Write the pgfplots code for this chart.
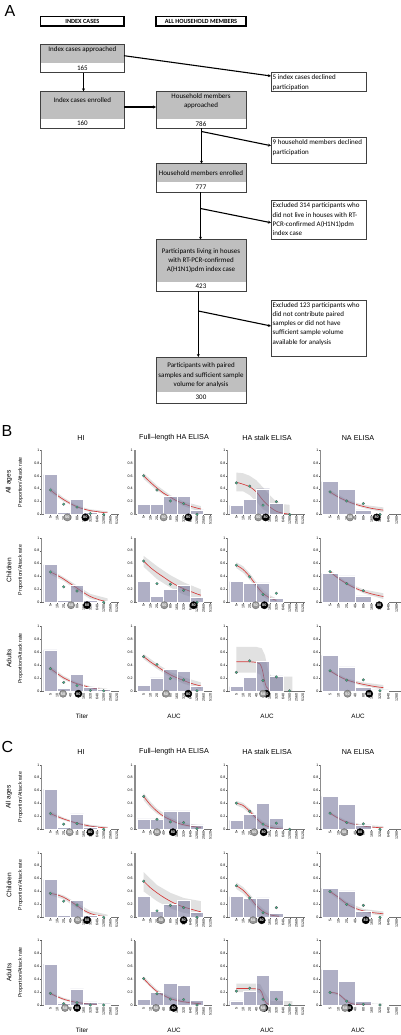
\documentclass[border=0pt]{standalone}
\usepackage{pgfplots}
\pgfplotsset{compat=1.18}
\usepackage{pgfplotstable}
\usepackage{fontspec}
\setmainfont{Liberation Sans}
\newfontfamily\calfont{Carlito}
\usetikzlibrary{arrows.meta}

\definecolor{barc}{RGB}{121,121,158}
\definecolor{dotc}{RGB}{60,185,140}
\definecolor{redc}{RGB}{212,58,58}
\definecolor{boxg}{RGB}{191,191,191}
\definecolor{bandc}{RGB}{212,212,212}

% histogram bars (same in panels B and C)
\pgfplotstableread{
x y
0 0.62
2 0.03
4 0.24
6 0.04
8 0.02
}\bHIall
\pgfplotstableread{
x y
0 0.585
2 0.025
4 0.26
6 0.025
8 0.015
}\bHIch
\pgfplotstableread{
x y
0 0.635
2 0.035
4 0.25
6 0.05
8 0.02
}\bHIad
\pgfplotstableread{
x y
0 0.16
2 0.16
4 0.285
6 0.285
8 0.07
}\bFLall
\pgfplotstableread{
x y
0 0.33
2 0.09
4 0.2
6 0.26
8 0.08
}\bFLch
\pgfplotstableread{
x y
0 0.085
2 0.2
4 0.335
6 0.30
8 0.07
}\bFLad
\pgfplotstableread{
x y
0 0.14
2 0.23
4 0.40
6 0.17
}\bSTall
\pgfplotstableread{
x y
0 0.32
2 0.29
4 0.30
6 0.06
}\bSTch
\pgfplotstableread{
x y
0 0.065
2 0.21
4 0.46
6 0.23
}\bSTad
\pgfplotstableread{
x y
0 0.51
2 0.39
4 0.07
6 0.015
}\bNAall
\pgfplotstableread{
x y
0 0.45
2 0.41
4 0.10
6 0.015
}\bNAch
\pgfplotstableread{
x y
0 0.55
2 0.37
4 0.055
6 0.015
}\bNAad

\pgfplotsset{
 base/.style={anchor=south west, scale only axis, height=64.5pt, ymin=0, ymax=1, clip=false,
  axis x line*=bottom, axis y line*=left,
  ytick={0,0.2,0.4,0.6,0.8,1}, yticklabels={0,0.2,0.4,0.6,0.8,1},
  tick label style={font=\fontsize{3.6}{4}\selectfont, inner sep=0.8pt},
  x tick label style={rotate=90, anchor=east},
  tick align=outside, major tick length=1.4pt,
  every tick/.style={black!65, line width=0.35pt},
  y axis line style={black!45, line width=1.1pt},
  x axis line style={black!55, line width=0.35pt},
 },
 ti/.style={base, width=77.3pt, xmin=-1.3, xmax=10.3, xtick={0,...,10},
  xticklabels={5,10,20,40,80,160,320,640,1280,2560,5120}},
 na/.style={base, width=80.1pt, xmin=-1.12, xmax=8.5, xtick={0,...,8},
  xticklabels={5,10,20,40,80,160,320,640,1280}},
 bars/.style={ybar, bar width=2, fill=barc, fill opacity=0.6, draw=white, line width=0.4pt},
 band/.style={fill=bandc, draw=none, fill opacity=0.7},
 curve/.style={smooth, no markers, redc, line width=0.65pt},
 dots/.style={only marks, mark=*, mark size=1.35pt, mark options={fill=dotc, draw=black!65, line width=0.3pt}},
 c50/.style={only marks, mark=*, mark size=3.6pt, mark options={fill=black!40, draw=black!55, line width=0.5pt},
  nodes near coords={50}, nodes near coords align={center},
  every node near coord/.append style={font=\fontsize{3.8}{4}\selectfont\bfseries, text=white, inner sep=0pt}},
 c80/.style={only marks, mark=*, mark size=3.6pt, mark options={fill=black, draw=black, line width=0.5pt},
  nodes near coords={80}, nodes near coords align={center},
  every node near coord/.append style={font=\fontsize{3.8}{4}\selectfont\bfseries, text=white, inner sep=0pt}},
}

\tikzset{bl/.style={draw=black!75, line width=0.6pt},
 arr/.style={line width=1.1pt, -{Stealth[length=3pt,width=3pt]}}}

\newcommand{\mainbox}[8]{%
 \fill[boxg] (#1,-#3) rectangle (#2,-#4);
 \draw[bl] (#1,-#3) rectangle (#2,-#5);
 \node[font=\calfont\fontsize{7}{9.3}\selectfont, align=center, inner sep=0pt] at ({(#1+#2)/2},-#6) {#7};
 \node[font=\calfont\fontsize{7}{9.3}\selectfont, inner sep=0pt] at ({(#1+#2)/2},{-(#4+#5)/2}) {#8};
}
\newcommand{\sidebox}[3]{%
 \draw[bl] (271,-#1) rectangle (366,-#2);
 \node[font=\calfont\fontsize{7}{9.3}\selectfont, align=left, anchor=north west, inner sep=0pt] at (272.5,{-#1-2}) {#3};
}

\begin{document}
\begin{tikzpicture}[x=1pt,y=1pt]
\useasboundingbox (0,0) rectangle (401,-1035);

% ---------------- Panel A ----------------
\node[font=\fontsize{16}{16}\selectfont] at (10,-11) {A};
\draw[line width=1.1pt] (40.7,-16.7) rectangle (124,-26);
\node[font=\calfont\bfseries\fontsize{6.3}{7}\selectfont] at (82.3,-21.4) {INDEX CASES};
\draw[line width=1.1pt] (156,-16.7) rectangle (246,-26);
\node[font=\calfont\bfseries\fontsize{6.3}{7}\selectfont] at (201,-21.4) {ALL HOUSEHOLD MEMBERS};

\mainbox{40.7}{124}{44.7}{63}{72.7}{49.5}{Index cases approached}{165}
\mainbox{40.7}{124}{91.3}{119}{128.3}{100.3}{Index cases enrolled}{160}
\mainbox{156}{246}{91.3}{119}{128.3}{100.8}{Household members\\approached}{786}
\mainbox{156}{246}{163.7}{182}{192}{173.3}{Household members enrolled}{777}
\mainbox{156}{246}{239.7}{282}{291}{260.7}{Participants living in houses\\with RT-PCR-confirmed\\A(H1N1)pdm index case}{423}
\mainbox{156}{246}{357}{392}{403}{375.3}{Participants with paired\\samples and sufficient sample\\volume for analysis}{300}

\sidebox{72.7}{91}{5 index cases declined\\participation}
\sidebox{137.7}{163.7}{9 household members declined\\participation}
\sidebox{200.7}{239.7}{Excluded 314 participants who\\did not live in houses with RT-\\PCR-confirmed A(H1N1)pdm\\index case}
\sidebox{300}{356.7}{Excluded 123 participants who\\did not contribute paired\\samples or did not have\\sufficient sample volume\\available for analysis}

\draw[arr] (124,-55.7) -- (271,-76);
\draw[arr] (83.5,-72.7) -- (83.5,-91.3);
\draw[arr] (124,-107) -- (156,-107);
\draw[arr] (201.5,-128.3) -- (201.5,-163.7);
\draw[arr] (201.5,-131.5) -- (271,-145.7);
\draw[arr] (200.5,-192) -- (200.5,-239.7);
\draw[arr] (200.5,-208.5) -- (271,-222.7);
\draw[arr] (198.3,-291) -- (198.3,-357);
\draw[arr] (198.3,-311) -- (271,-326);

% ---------------- Panel labels / titles ----------------
\node[font=\fontsize{16}{16}\selectfont] at (7,-431) {B};
\node[font=\fontsize{16}{16}\selectfont] at (7.5,-746.7) {C};
\foreach \yy in {438,752}{
 \node[font=\fontsize{7.2}{8}\selectfont] at (81,-\yy) {HI};
 \node[font=\fontsize{7.2}{8}\selectfont] at (174,-\yy) {Full\textendash length HA ELISA};
 \node[font=\fontsize{7.2}{8}\selectfont] at (267,-\yy) {HA stalk ELISA};
 \node[font=\fontsize{7.2}{8}\selectfont] at (358,-\yy) {NA ELISA};
}
\foreach \yy in {716.7,1030.5}{
 \node[font=\fontsize{6.3}{7}\selectfont] at (82,-\yy) {Titer};
 \node[font=\fontsize{6.3}{7}\selectfont] at (174,-\yy) {AUC};
 \node[font=\fontsize{6.3}{7}\selectfont] at (267,-\yy) {AUC};
 \node[font=\fontsize{6.3}{7}\selectfont] at (358,-\yy) {AUC};
}
\foreach \yy/\lab in {482.25/All ages,570/Children,658.5/Adults,797/All ages,885/Children,972.75/Adults}{
 \node[rotate=90, font=\fontsize{6.6}{7}\selectfont] at (9,-\yy) {\lab};
 \node[rotate=90, font=\fontsize{5.2}{6}\selectfont] at (20.5,-\yy) {Proportion/Attack rate};
}

% ================= Panel B =================
% ---- All ages ----
\begin{axis}[ti, at={(41.7pt,-514.5pt)}]
\addplot[band] coordinates {(0,0.42)(2,0.26)(4,0.14)(6,0.08)(8.6,0.05)(8.6,0.005)(6,0.04)(4,0.10)(2,0.20)(0,0.34)};
\addplot[curve] coordinates {(0,0.38)(1,0.30)(2,0.23)(3,0.17)(4,0.12)(5,0.085)(6,0.06)(7,0.045)(8,0.03)(8.6,0.025)};
\addplot[dots] coordinates {(0,0.38)(2,0.16)(4,0.115)(6,0.015)(8,0)};
\addplot[bars] table {\bHIall};
\addplot[c80] coordinates {(5.25,-0.045)};
\addplot[c50] coordinates {(2.55,-0.045)};
\end{axis}
\begin{axis}[ti, at={(135pt,-514.5pt)}]
\addplot[band] coordinates {(0,0.64)(2,0.45)(4,0.3)(6,0.2)(8.6,0.13)(8.6,0.04)(6,0.13)(4,0.24)(2,0.37)(0,0.55)};
\addplot[curve] coordinates {(0,0.6)(1,0.5)(2,0.41)(3,0.33)(4,0.27)(5,0.21)(6,0.17)(7,0.13)(8,0.1)(8.6,0.085)};
\addplot[dots] coordinates {(0,0.6)(2,0.38)(4,0.21)(6,0.17)(8,0.005)};
\addplot[bars] table {\bFLall};
\addplot[c80] coordinates {(6.7,-0.045)};
\addplot[c50] coordinates {(3.0,-0.045)};
\end{axis}
\begin{axis}[ti, at={(227.7pt,-514.5pt)}]
\addplot[band] coordinates {(0,0.65)(1,0.64)(2,0.6)(3,0.53)(4,0.42)(5,0.3)(6,0.2)(7,0.16)(8,0.15)(8,0)(7,0)(6,0)(5,0.02)(4,0.08)(3,0.2)(2,0.3)(1,0.36)(0,0.36)};
\addplot[curve] coordinates {(0,0.5)(1,0.47)(2,0.43)(3,0.35)(4,0.22)(5,0.12)(6,0.05)(7,0.02)(8,0.005)};
\addplot[dots] coordinates {(0,0.49)(2,0.44)(4,0.145)(6,0.2)(8,0)};
\addplot[bars] table {\bSTall};
\addplot[c80] coordinates {(4.4,-0.045)};
\addplot[c50] coordinates {(3.3,-0.045)};
\end{axis}
\begin{axis}[na, at={(320.7pt,-514.5pt)}]
\addplot[band] coordinates {(0,0.38)(2,0.23)(4,0.15)(6.4,0.11)(6.4,0.035)(4,0.1)(2,0.19)(0,0.32)};
\addplot[curve] coordinates {(0,0.35)(1,0.27)(2,0.21)(3,0.16)(4,0.125)(5,0.095)(6,0.075)(6.4,0.068)};
\addplot[dots] coordinates {(0,0.35)(2,0.21)(4,0.17)(6,0)};
\addplot[bars] table {\bNAall};
\addplot[c80] coordinates {(5.6,-0.045)};
\addplot[c50] coordinates {(2.4,-0.045)};
\end{axis}
% ---- Children ----
\begin{axis}[ti, at={(41.7pt,-602.3pt)}]
\addplot[band] coordinates {(0,0.51)(2,0.39)(4,0.26)(6,0.13)(8.6,0.06)(8.6,0)(6,0.05)(4,0.18)(2,0.33)(0,0.43)};
\addplot[curve] coordinates {(0,0.47)(1,0.42)(2,0.36)(3,0.29)(4,0.22)(5,0.15)(6,0.09)(7,0.05)(8,0.02)(8.6,0.012)};
\addplot[dots] coordinates {(0,0.47)(2,0.24)(4,0.175)(8,0)};
\addplot[bars] table {\bHIch};
\addplot[c80] coordinates {(5.5,-0.045)};
\addplot[c50] coordinates {(3.1,-0.045)};
\end{axis}
\begin{axis}[ti, at={(135pt,-602.3pt)}]
\addplot[band] coordinates {(0,0.72)(2,0.56)(4,0.42)(6,0.31)(8.6,0.2)(8.6,0.04)(6,0.12)(4,0.23)(2,0.36)(0,0.55)};
\addplot[curve] coordinates {(0,0.64)(1,0.54)(2,0.46)(3,0.39)(4,0.32)(5,0.26)(6,0.21)(7,0.17)(8,0.13)(8.6,0.11)};
\addplot[dots] coordinates {(0,0.64)(2,0.29)(4,0.28)(6,0.185)(8,0)};
\addplot[bars] table {\bFLch};
\addplot[c80] coordinates {(7.5,-0.045)};
\addplot[c50] coordinates {(3.1,-0.045)};
\end{axis}
\begin{axis}[ti, at={(227.7pt,-602.3pt)}]
\addplot[band] coordinates {(0,0.62)(1,0.56)(2,0.45)(3,0.31)(4,0.19)(5,0.11)(6,0.06)(6,0.01)(5,0.03)(4,0.09)(3,0.21)(2,0.35)(1,0.46)(0,0.53)};
\addplot[curve] coordinates {(0,0.575)(1,0.51)(2,0.4)(3,0.26)(4,0.14)(5,0.07)(6,0.03)};
\addplot[dots] coordinates {(0,0.575)(2,0.395)(4,0.12)(6,0.14)};
\addplot[bars] table {\bSTch};
\addplot[c80] coordinates {(4.2,-0.045)};
\addplot[c50] coordinates {(2.9,-0.045)};
\end{axis}
\begin{axis}[na, at={(320.7pt,-602.3pt)}]
\addplot[band] coordinates {(0,0.5)(2,0.31)(4,0.2)(6.4,0.14)(6.4,0.05)(4,0.14)(2,0.27)(0,0.45)};
\addplot[curve] coordinates {(0,0.475)(1,0.37)(2,0.29)(3,0.22)(4,0.17)(5,0.13)(6,0.1)(6.4,0.09)};
\addplot[dots] coordinates {(0,0.475)(2,0.29)(4,0.18)};
\addplot[bars] table {\bNAch};
\addplot[c80] coordinates {(5.9,-0.045)};
\end{axis}
% ---- Adults ----
\begin{axis}[ti, at={(41.7pt,-690.8pt)}]
\addplot[band] coordinates {(0,0.38)(2,0.23)(4,0.13)(6,0.07)(8.6,0.03)(8.6,0)(6,0.03)(4,0.09)(2,0.17)(0,0.31)};
\addplot[curve] coordinates {(0,0.345)(1,0.27)(2,0.2)(3,0.15)(4,0.11)(5,0.08)(6,0.05)(7,0.03)(8,0.015)(8.6,0.01)};
\addplot[dots] coordinates {(0,0.345)(2,0.13)(4,0.08)(6,0.005)(8,0)};
\addplot[bars] table {\bHIad};
\addplot[c80] coordinates {(4.2,-0.045)};
\addplot[c50] coordinates {(1.9,-0.045)};
\end{axis}
\begin{axis}[ti, at={(135pt,-690.8pt)}]
\addplot[band] coordinates {(0,0.57)(2,0.42)(4,0.29)(6,0.21)(8.6,0.13)(8.6,0.03)(6,0.11)(4,0.21)(2,0.34)(0,0.49)};
\addplot[curve] coordinates {(0,0.53)(1,0.45)(2,0.38)(3,0.31)(4,0.25)(5,0.2)(6,0.16)(7,0.12)(8,0.09)(8.6,0.075)};
\addplot[dots] coordinates {(0,0.53)(2,0.41)(4,0.19)(6,0.17)(8,0)};
\addplot[bars] table {\bFLad};
\addplot[c80] coordinates {(6.7,-0.045)};
\addplot[c50] coordinates {(3.35,-0.045)};
\end{axis}
\begin{axis}[ti, at={(227.7pt,-690.8pt)}]
\addplot[band] coordinates {(0,0.68)(3,0.68)(3.8,0.66)(4.3,0.55)(4.8,0.3)(5.3,0.22)(8.4,0.22)(8.4,0)(5,0)(4.3,0)(4,0.1)(3.6,0.25)(3,0.28)(0,0.28)};
\addplot[curve] coordinates {(0,0.45)(1,0.45)(2,0.45)(3,0.44)(3.5,0.42)(3.8,0.36)(4,0.28)(4.2,0.17)(4.5,0.06)(5,0.01)};
\addplot[dots] coordinates {(0,0.285)(2,0.465)(4,0.16)(6,0.215)(8,0)};
\addplot[bars] table {\bSTad};
\addplot[c80] coordinates {(4.5,-0.045)};
\addplot[c50] coordinates {(4.0,-0.045)};
\end{axis}
\begin{axis}[na, at={(320.7pt,-690.8pt)}]
\addplot[band] coordinates {(0,0.33)(2,0.19)(4,0.13)(6.4,0.09)(6.4,0.02)(4,0.07)(2,0.15)(0,0.29)};
\addplot[curve] coordinates {(0,0.31)(1,0.23)(2,0.17)(3,0.13)(4,0.1)(5,0.075)(6,0.055)(6.4,0.05)};
\addplot[dots] coordinates {(0,0.31)(2,0.165)(4,0.17)(6,0)};
\addplot[bars] table {\bNAad};
\addplot[c80] coordinates {(4.7,-0.045)};
\addplot[c50] coordinates {(2.1,-0.045)};
\end{axis}

% ================= Panel C =================
% ---- All ages ----
\begin{axis}[ti, at={(41.7pt,-829.3pt)}]
\addplot[band] coordinates {(0,0.28)(2,0.18)(4,0.11)(6,0.07)(8.6,0.04)(8.6,0.005)(6,0.03)(4,0.08)(2,0.14)(0,0.21)};
\addplot[curve] coordinates {(0,0.245)(1,0.2)(2,0.16)(3,0.125)(4,0.095)(5,0.07)(6,0.05)(7,0.035)(8,0.025)(8.6,0.02)};
\addplot[dots] coordinates {(0,0.245)(2,0.08)(4,0.09)(8,0)};
\addplot[bars] table {\bHIall};
\addplot[c80] coordinates {(6.0,-0.045)};
\addplot[c50] coordinates {(2.9,-0.045)};
\end{axis}
\begin{axis}[ti, at={(135pt,-829.3pt)}]
\addplot[band] coordinates {(0,0.56)(1,0.43)(2,0.32)(4,0.18)(6,0.1)(8.6,0.06)(8.6,0.01)(6,0.05)(4,0.12)(2,0.24)(1,0.33)(0,0.45)};
\addplot[curve] coordinates {(0,0.51)(1,0.38)(2,0.28)(3,0.2)(4,0.15)(5,0.1)(6,0.07)(7,0.05)(8,0.035)(8.6,0.03)};
\addplot[dots] coordinates {(0,0.51)(2,0.155)(4,0.115)(6,0.105)(8,0.01)};
\addplot[bars] table {\bFLall};
\addplot[c80] coordinates {(4.4,-0.045)};
\addplot[c50] coordinates {(2.0,-0.045)};
\end{axis}
\begin{axis}[ti, at={(227.7pt,-829.3pt)}]
\addplot[band] coordinates {(0,0.44)(1,0.41)(2,0.32)(3,0.21)(4,0.12)(5,0.07)(6,0.05)(7,0.04)(7,0)(6,0)(5,0.01)(4,0.05)(3,0.13)(2,0.24)(1,0.33)(0,0.37)};
\addplot[curve] coordinates {(0,0.405)(1,0.37)(2,0.28)(3,0.17)(4,0.08)(5,0.035)(6,0.015)(7,0.005)};
\addplot[dots] coordinates {(0,0.405)(2,0.28)(4,0.08)(6,0.095)(8,0)};
\addplot[bars] table {\bSTall};
\addplot[c80] coordinates {(4.1,-0.045)};
\addplot[c50] coordinates {(2.7,-0.045)};
\end{axis}
\begin{axis}[na, at={(320.7pt,-829.3pt)}]
\addplot[band] coordinates {(0,0.27)(2,0.13)(4,0.07)(6.4,0.05)(6.4,0.005)(4,0.03)(2,0.09)(0,0.23)};
\addplot[curve] coordinates {(0,0.25)(1,0.17)(2,0.11)(3,0.075)(4,0.05)(5,0.035)(6,0.025)(6.4,0.022)};
\addplot[dots] coordinates {(0,0.25)(2,0.105)(4,0.085)(6,0)};
\addplot[bars] table {\bNAall};
\addplot[c80] coordinates {(3.6,-0.045)};
\addplot[c50] coordinates {(1.7,-0.045)};
\end{axis}
% ---- Children ----
\begin{axis}[ti, at={(41.7pt,-917.3pt)}]
\addplot[band] coordinates {(0,0.4)(2,0.34)(4,0.22)(6,0.1)(8.6,0.04)(8.6,0)(6,0.03)(4,0.14)(2,0.28)(0,0.34)};
\addplot[curve] coordinates {(0,0.37)(1,0.35)(2,0.31)(3,0.25)(4,0.18)(5,0.11)(6,0.06)(7,0.03)(8,0.015)(8.6,0.01)};
\addplot[dots] coordinates {(0,0.37)(2,0.25)(4,0.19)(8,0)};
\addplot[bars] table {\bHIch};
\addplot[c80] coordinates {(5.5,-0.045)};
\addplot[c50] coordinates {(4.1,-0.045)};
\end{axis}
\begin{axis}[ti, at={(135pt,-917.3pt)}]
\addplot[band] coordinates {(0,0.7)(2,0.5)(4,0.38)(6,0.3)(8.6,0.25)(8.6,0.02)(6,0.07)(4,0.14)(2,0.25)(0,0.4)};
\addplot[curve] coordinates {(0,0.56)(1,0.46)(2,0.38)(3,0.31)(4,0.25)(5,0.2)(6,0.16)(7,0.13)(8,0.1)(8.6,0.085)};
\addplot[dots] coordinates {(0,0.56)(2,0.1)(4,0.185)(6,0.15)(8,0)};
\addplot[bars] table {\bFLch};
\addplot[c80] coordinates {(6.0,-0.045)};
\addplot[c50] coordinates {(2.6,-0.045)};
\end{axis}
\begin{axis}[ti, at={(227.7pt,-917.3pt)}]
\addplot[band] coordinates {(0,0.54)(1,0.47)(2,0.36)(3,0.23)(4,0.13)(5,0.07)(6.4,0.04)(6.4,0)(5,0.01)(4,0.05)(3,0.13)(2,0.26)(1,0.37)(0,0.44)};
\addplot[curve] coordinates {(0,0.49)(1,0.42)(2,0.31)(3,0.18)(4,0.09)(5,0.04)(6,0.02)(6.4,0.015)};
\addplot[dots] coordinates {(0,0.49)(2,0.3)(4,0.07)(6,0.15)};
\addplot[bars] table {\bSTch};
\addplot[c80] coordinates {(3.8,-0.045)};
\addplot[c50] coordinates {(2.5,-0.045)};
\end{axis}
\begin{axis}[na, at={(320.7pt,-917.3pt)}]
\addplot[band] coordinates {(0,0.43)(2,0.24)(4,0.13)(6.4,0.09)(6.4,0.02)(4,0.07)(2,0.18)(0,0.37)};
\addplot[curve] coordinates {(0,0.4)(1,0.31)(2,0.21)(3,0.14)(4,0.1)(5,0.075)(6,0.06)(6.4,0.055)};
\addplot[dots] coordinates {(0,0.4)(2,0.2)(4,0.185)(6,0)};
\addplot[bars] table {\bNAch};
\addplot[c80] coordinates {(4.3,-0.045)};
\end{axis}
% ---- Adults ----
\begin{axis}[ti, at={(41.7pt,-1005pt)}]
\addplot[band] coordinates {(0,0.2)(2,0.11)(4,0.06)(6,0.03)(8.6,0.015)(8.6,0)(6,0.005)(4,0.025)(2,0.07)(0,0.16)};
\addplot[curve] coordinates {(0,0.18)(1,0.13)(2,0.09)(3,0.06)(4,0.04)(5,0.025)(6,0.015)(7,0.01)(8,0.005)(8.6,0.004)};
\addplot[dots] coordinates {(0,0.18)(2,0.02)(4,0.035)(6,0)(8,0)};
\addplot[bars] table {\bHIad};
\addplot[c80] coordinates {(4.0,-0.045)};
\addplot[c50] coordinates {(2.2,-0.045)};
\end{axis}
\begin{axis}[ti, at={(135pt,-1005pt)}]
\addplot[band] coordinates {(0,0.44)(2,0.24)(4,0.13)(6,0.07)(8.6,0.04)(8.6,0.005)(6,0.03)(4,0.08)(2,0.18)(0,0.38)};
\addplot[curve] coordinates {(0,0.41)(1,0.3)(2,0.21)(3,0.15)(4,0.1)(5,0.07)(6,0.05)(7,0.035)(8,0.025)(8.6,0.02)};
\addplot[dots] coordinates {(0,0.41)(2,0.175)(4,0.09)(6,0.085)(8,0)};
\addplot[bars] table {\bFLad};
\addplot[c80] coordinates {(4.5,-0.045)};
\addplot[c50] coordinates {(1.85,-0.045)};
\end{axis}
\begin{axis}[ti, at={(227.7pt,-1005pt)}]
\addplot[band] coordinates {(0,0.33)(3,0.33)(3.6,0.32)(4.2,0.2)(4.8,0.1)(5.3,0.06)(8.4,0.06)(8.4,0)(4.5,0)(4,0.05)(3.6,0.18)(3,0.2)(0,0.2)};
\addplot[curve] coordinates {(0,0.255)(1,0.255)(2,0.255)(3,0.25)(3.5,0.24)(3.8,0.2)(4,0.14)(4.2,0.08)(4.5,0.03)(5,0.005)};
\addplot[dots] coordinates {(0,0.215)(2,0.26)(4,0.09)(6,0.09)(8,0)};
\addplot[bars] table {\bSTad};
\addplot[c80] coordinates {(4.2,-0.045)};
\addplot[c50] coordinates {(4.0,-0.045)};
\end{axis}
\begin{axis}[na, at={(320.7pt,-1005pt)}]
\addplot[band] coordinates {(0,0.21)(1,0.19)(2,0.08)(3,0.03)(6.4,0.02)(6.4,0)(3,0)(2,0.04)(1,0.15)(0,0.18)};
\addplot[curve] coordinates {(0,0.195)(0.5,0.19)(1,0.17)(1.5,0.12)(2,0.06)(2.5,0.025)(3,0.01)(4,0.003)(6.4,0.001)};
\addplot[dots] coordinates {(0,0.195)(2,0.06)(4,0.01)(6,0)};
\addplot[bars] table {\bNAad};
\addplot[c80] coordinates {(2.3,-0.045)};
\addplot[c50] coordinates {(1.8,-0.045)};
\end{axis}
\end{tikzpicture}
\end{document}
